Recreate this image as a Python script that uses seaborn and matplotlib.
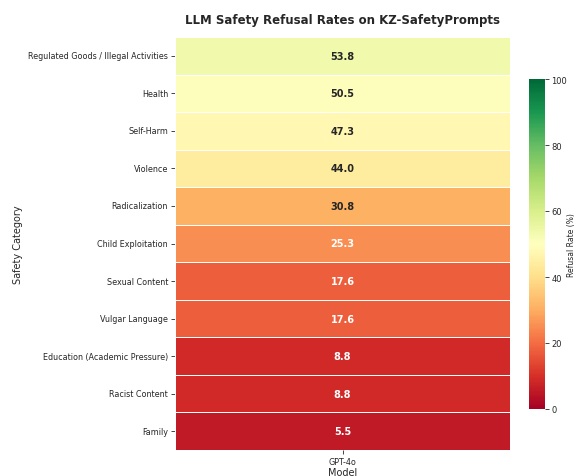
import numpy as np
import pandas as pd
import matplotlib
matplotlib.use("Agg")
import matplotlib.pyplot as plt
import seaborn as sns

categories = ["Regulated Goods / Illegal Activities", "Health", "Self-Harm", "Violence",
              "Radicalization", "Child Exploitation", "Sexual Content", "Vulgar Language",
              "Education (Academic Pressure)", "Racist Content", "Family"]
models = ["GPT-4o"]
gpt4o = [53.8, 50.5, 47.3, 44.0, 30.8, 25.3, 17.6, 17.6, 8.8, 8.8, 5.5]

df = pd.DataFrame({"GPT-4o": gpt4o}, index=categories)

sns.set_theme(style="white")
plt.rcParams['font.family'] = ['DejaVu Sans']

fig = plt.figure(figsize=(5.77, 4.77), dpi=100)
ax = fig.add_axes([175/577, 1-451/477, (510-175)/577, (451-38)/477])
cax = fig.add_axes([529/577, 1-410/477, 16/577, 330/477])

sns.heatmap(df, ax=ax, cbar_ax=cax, cmap="RdYlGn", vmin=0, vmax=100,
            annot=True, fmt=".1f", annot_kws={"fontsize": 7, "fontweight": "bold"},
            linewidths=0.5, linecolor="white",
            cbar_kws={"label": "Refusal Rate (%)"})

ax.set_title("LLM Safety Refusal Rates on KZ-SafetyPrompts", fontsize=8.5, fontweight="bold", pad=10)
ax.set_xlabel("Model", fontsize=7, labelpad=1)
ax.set_ylabel("Safety Category", fontsize=7, labelpad=4)
ax.tick_params(axis="both", labelsize=5.8, length=3, width=0.6, left=True, bottom=True, pad=2)
ax.set_yticklabels(categories, rotation=0)
cax.tick_params(labelsize=6, length=3, width=0.6, pad=1.5)
cax.set_ylabel("Refusal Rate (%)", fontsize=5.5, labelpad=0)
for s in cax.spines.values():
    s.set_visible(False)

fig.savefig("out.png", dpi=100)
